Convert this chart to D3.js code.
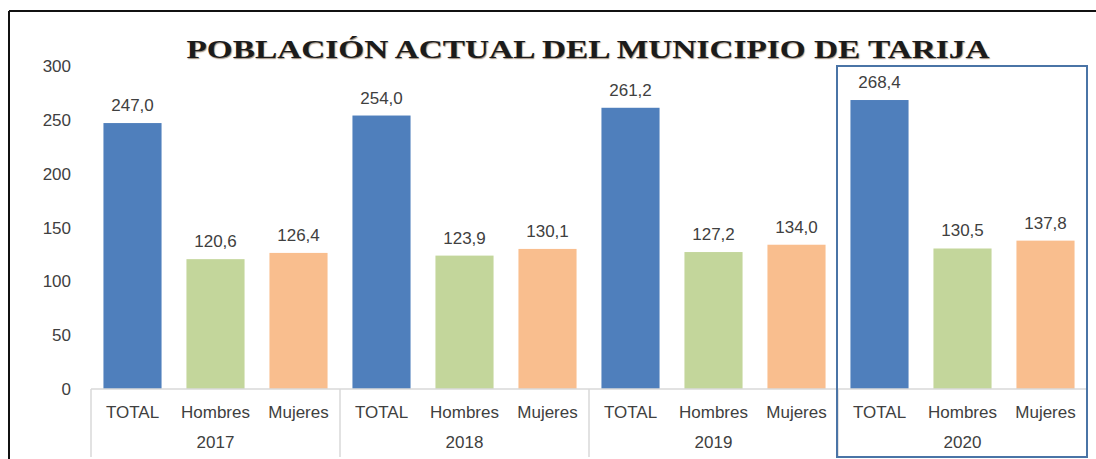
<!DOCTYPE html>
<html>
<head>
<meta charset="utf-8">
<script src="https://cdn.jsdelivr.net/npm/d3@7"></script>
<style>
  html, body { margin: 0; padding: 0; background: #fff; }
  svg { display: block; }
</style>
</head>
<body>
<svg id="chart" width="1096" height="459"></svg>
<script>
// Población del municipio de Tarija (miles de habitantes)
const years = ["2017", "2018", "2019", "2020"];
const categories = ["TOTAL", "Hombres", "Mujeres"];
const total   = [247.0, 254.0, 261.2, 268.4];
const hombres = [120.6, 123.9, 127.2, 130.5];
const mujeres = [126.4, 130.1, 134.0, 137.8];
const yTicks = [0, 50, 100, 150, 200, 250, 300];
const highlightYear = "2020";

const series = { "TOTAL": total, "Hombres": hombres, "Mujeres": mujeres };
const colors = { "TOTAL": "#4f7fbc", "Hombres": "#c3d69b", "Mujeres": "#f9be8e" };

const svg = d3.select("#chart");
const W = 1096, H = 459;
const plot = { left: 91, right: 1087, top: 66, bottom: 389 };

const fmt = d3.formatLocale({ decimal: ",", thousands: ".", grouping: [3], currency: ["", ""] }).format(".1f");

const x0 = d3.scaleBand().domain(years).range([plot.left, plot.right]).padding(0);
const x1 = d3.scaleBand().domain(categories).range([0, x0.bandwidth()]).padding(0);
const barW = x1.bandwidth() * 0.7;
const y = d3.scaleLinear().domain([0, 300]).range([plot.bottom, plot.top]);

const rows = [];
years.forEach((yr, i) => categories.forEach(c => rows.push({ year: yr, cat: c, value: series[c][i] })));

// outer frame
svg.append("line").attr("x1", 9).attr("x2", W).attr("y1", 11).attr("y2", 11)
  .attr("stroke", "#111").attr("stroke-width", 2);
svg.append("line").attr("x1", 9).attr("x2", 9).attr("y1", 11).attr("y2", H)
  .attr("stroke", "#111").attr("stroke-width", 2);

// title
svg.append("text")
  .attr("x", 588).attr("y", 58)
  .attr("text-anchor", "middle")
  .attr("font-family", "'Liberation Serif', 'Times New Roman', serif")
  .attr("font-weight", "bold")
  .attr("font-size", 26)
  .attr("fill", "#1b1b1b")
  .attr("textLength", 803)
  .attr("lengthAdjust", "spacingAndGlyphs")
  .style("text-shadow", "0.5px 0.5px 1px rgba(90,60,30,0.6)")
  .text("POBLACIÓN ACTUAL DEL MUNICIPIO DE TARIJA");

// y axis labels
svg.append("g").selectAll("text").data(yTicks).join("text")
  .attr("x", 71).attr("y", d => y(d) + 6)
  .attr("text-anchor", "end")
  .attr("font-family", "'Liberation Sans', Arial, sans-serif")
  .attr("font-size", 17)
  .attr("fill", "#404040")
  .text(d => d);

// bars
const bars = svg.append("g");
bars.selectAll("rect").data(rows).join("rect")
  .attr("x", d => x0(d.year) + x1(d.cat) + (x1.bandwidth() - barW) / 2)
  .attr("y", d => y(d.value))
  .attr("width", barW)
  .attr("height", d => y(0) - y(d.value))
  .attr("fill", d => colors[d.cat]);

// value labels
svg.append("g").selectAll("text").data(rows).join("text")
  .attr("x", d => x0(d.year) + x1(d.cat) + x1.bandwidth() / 2)
  .attr("y", d => y(d.value) - 12)
  .attr("text-anchor", "middle")
  .attr("font-family", "'Liberation Sans', Arial, sans-serif")
  .attr("font-size", 17)
  .attr("fill", "#404040")
  .text(d => fmt(d.value));

// category axis
svg.append("line").attr("x1", plot.left).attr("x2", plot.right)
  .attr("y1", plot.bottom).attr("y2", plot.bottom)
  .attr("stroke", "#d9d9d9").attr("stroke-width", 1.5);
const bounds = years.map(yr => x0(yr)).concat([plot.right]);
svg.append("g").selectAll("line").data(bounds).join("line")
  .attr("x1", d => d).attr("x2", d => d)
  .attr("y1", plot.bottom).attr("y2", 457)
  .attr("stroke", "#d9d9d9").attr("stroke-width", 1.5);

svg.append("g").selectAll("text").data(rows).join("text")
  .attr("x", d => x0(d.year) + x1(d.cat) + x1.bandwidth() / 2)
  .attr("y", 418)
  .attr("text-anchor", "middle")
  .attr("font-family", "'Liberation Sans', Arial, sans-serif")
  .attr("font-size", 17)
  .attr("fill", "#404040")
  .text(d => d.cat);

svg.append("g").selectAll("text").data(years).join("text")
  .attr("x", d => x0(d) + x0.bandwidth() / 2)
  .attr("y", 448)
  .attr("text-anchor", "middle")
  .attr("font-family", "'Liberation Sans', Arial, sans-serif")
  .attr("font-size", 17)
  .attr("fill", "#404040")
  .text(d => d);

// highlight box around the latest year
svg.append("rect")
  .attr("x", x0(highlightYear) - 1)
  .attr("y", plot.top)
  .attr("width", x0.bandwidth() + 1)
  .attr("height", 457 - plot.top)
  .attr("fill", "none")
  .attr("stroke", "#4a74a6")
  .attr("stroke-width", 2);
</script>
</body>
</html>
